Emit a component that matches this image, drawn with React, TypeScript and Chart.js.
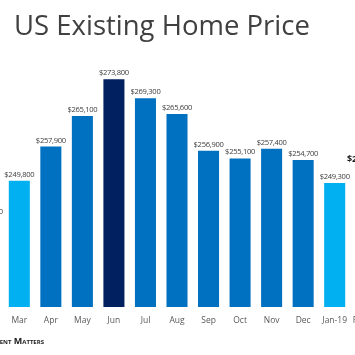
import React, { useEffect, useRef } from "react";
import { Chart, registerables } from "chart.js";

Chart.register(...registerables);

const categories = ["Feb", "Mar", "Apr", "May", "Jun", "Jul", "Aug", "Sep", "Oct", "Nov", "Dec", "Jan-19", "Feb-19"];
const prices = [241100, 249800, 257900, 265100, 273800, 269300, 265600, 256900, 255100, 257400, 254700, 249300, 253400];
const barColors = ["#0070c0", "#00b0f0", "#0070c0", "#0070c0", "#002060", "#0070c0", "#0070c0", "#0070c0", "#0070c0", "#0070c0", "#0070c0", "#00b0f0", "#0070c0"];
const boldLabels = [false, false, false, false, false, false, false, false, false, false, false, false, true];

const fmt = (v: number) => "$" + v.toLocaleString("en-US");

const valueLabels = {
  id: "valueLabels",
  afterDatasetsDraw(chart: any) {
    const ctx = chart.ctx;
    const meta = chart.getDatasetMeta(0);
    meta.data.forEach((bar: any, i: number) => {
      ctx.save();
      ctx.font = (boldLabels[i] ? "bold 9px " : "7.6px ") + '"Open Sans", sans-serif';
      ctx.fillStyle = boldLabels[i] ? "#1a1a1a" : "#404040";
      ctx.textAlign = "center";
      ctx.textBaseline = "alphabetic";
      try {
        (ctx as any).letterSpacing = boldLabels[i] ? "0px" : "-0.3px";
      } catch (e) {}
      ctx.fillText(fmt(prices[i]), bar.x, bar.y - 4);
      ctx.restore();
    });
  },
};

export default function App() {
  const ref = useRef<HTMLCanvasElement | null>(null);
  useEffect(() => {
    if (!ref.current) return;
    const chart = new Chart(ref.current, {
      type: "bar",
      data: {
        labels: categories,
        datasets: [
          {
            data: prices,
            backgroundColor: barColors,
            borderWidth: 0,
            categoryPercentage: 1,
            barPercentage: 0.667,
          },
        ],
      },
      options: {
        responsive: false,
        animation: false,
        events: [],
        layout: { autoPadding: false, padding: { top: 53, bottom: 0, left: 0, right: 0 } },
        plugins: { legend: { display: false }, title: { display: false }, tooltip: { enabled: false } },
        scales: {
          x: {
            grid: { display: false, drawTicks: false },
            border: { display: false },
            ticks: {
              autoSkip: false,
              maxRotation: 0,
              padding: 8,
              color: "#595959",
              font: { family: '"Open Sans", sans-serif', size: 8.5 },
            },
            afterFit: (scale: any) => {
              scale.height = 48;
              scale.paddingLeft = 0;
              scale.paddingRight = 0;
            },
          },
          y: { display: false, min: 220000, max: 280000 },
        },
      },
      plugins: [valueLabels],
    });
    return () => chart.destroy();
  }, []);

  return (
    <div
      style={{
        position: "fixed",
        left: 0,
        top: 0,
        width: 355,
        height: 355,
        overflow: "hidden",
        background: "#ffffff",
      }}
    >
      <canvas
        ref={ref}
        width={410}
        height={355}
        style={{ position: "absolute", left: -28, top: 0, width: 410, height: 355 }}
      />
      <div
        style={{
          position: "absolute",
          left: 14,
          top: 6,
          fontFamily: '"Open Sans", sans-serif',
          fontWeight: 400,
          fontSize: 27.5,
          color: "#404040",
          whiteSpace: "nowrap",
        }}
      >
        US Existing Home Price
      </div>
      <div
        style={{
          position: "absolute",
          right: 311,
          top: 336,
          fontFamily: '"Open Sans", sans-serif',
          fontWeight: 700,
          fontSize: 9,
          lineHeight: "9px",
          fontVariant: "small-caps",
          color: "#1a1a1a",
          whiteSpace: "nowrap",
        }}
      >
        Keeping Current Matters
      </div>
    </div>
  );
}
